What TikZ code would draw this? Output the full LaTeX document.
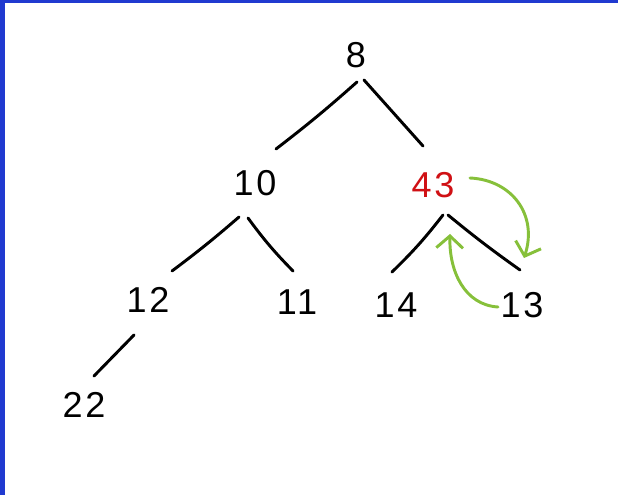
\documentclass[tikz,border=0pt]{standalone}
\usepackage{fontspec}
\setmainfont{Liberation Sans}[LetterSpace=8]
\usetikzlibrary{arrows.meta,calc}
\definecolor{frameblue}{RGB}{32,58,208}
\definecolor{keyred}{RGB}{208,16,20}
\definecolor{arrowgreen}{RGB}{134,192,58}
\tikzset{
  key/.style={inner sep=0pt, font=\fontsize{27}{27}\selectfont},
  edge/.style={line width=2.2pt, line cap=round, black},
  swap/.style={line width=2.2pt, line cap=round, arrowgreen,
    -{Straight Barb[length=9pt,width=20pt,line width=2.2pt]}}
}
\begin{document}
\begin{tikzpicture}[x=0.75pt,y=-0.75pt]
\useasboundingbox (0,0) rectangle (618,495);
\fill[white] (0,0) rectangle (618,495);
\fill[frameblue] (0,0) rectangle (618,3);
\fill[frameblue] (0,0) rectangle (4.5,495);

\node[key] (n8)  at (356,55)  {8};
\node[key] (n10) at (255,183) {10};
\node[key, text=keyred] (n43) at (433,185) {43};
\node[key] (n12) at (148,300) {12};
\node[key] (n11) at (297,302) {11};
\node[key] (n14) at (396,305) {14};
\node[key] (n13) at (522,305) {13};
\node[key] (n22) at (84,405)  {22};

\draw[edge] ($(n8)+(1,27)$) to[bend left=2] ($(n10)+(21,-34)$);
\draw[edge] ($(n8)+(8,25)$) -- ($(n43)+(-10,-39)$);
\draw[edge] ($(n10)+(-16,34)$) to[bend left=2] ($(n12)+(24,-29)$);
\draw[edge] ($(n10)+(-7,35)$) to[bend right=4] ($(n11)+(-4,-31)$);
\draw[edge] ($(n43)+(10,30)$) to[bend left=4] ($(n14)+(-4,-33)$);
\draw[edge] ($(n43)+(15,30)$) to[bend right=2] ($(n13)+(-2,-35)$);
\draw[edge] ($(n12)+(-14,35)$) -- ($(n22)+(10,-29)$);

\draw[swap] ($(n43)+(37,-7)$) .. controls (512,180) and (538,215) .. ($(n13)+(2,-47)$);
\draw[swap] ($(n13)+(-24,2)$) .. controls (465,305) and (449,272) .. ($(n43)+(17,49)$);
\end{tikzpicture}
\end{document}
